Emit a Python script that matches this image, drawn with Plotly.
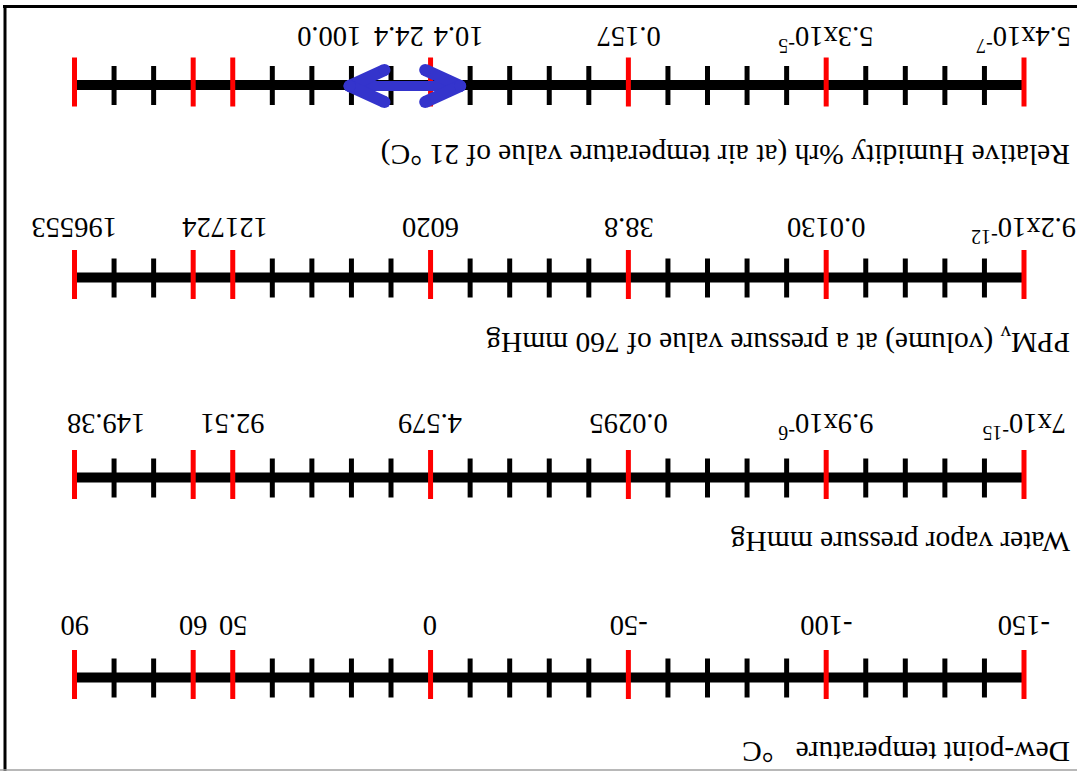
import plotly.graph_objects as go

# ---------------- data ----------------
# shared scale: dew-point temperature in degC (all four rulers share the same tick grid)
tick_values = list(range(-150, 91, 10))
red_values = [-150, -100, -50, 0, 50, 60, 90]
black_values = [v for v in tick_values if v not in red_values]

rh_title = "Relative Humidity %rh (at air temperature value of 21 °C)"
rh_labels = ["5.4x10<sup>-7</sup>", "5.3x10<sup>-5</sup>", "0.157", "10.4", "24.4", "100.0"]
rh_label_at = [-150, -100, -50, -7, 8, 25.5]

ppm_title = "PPM<sub>v</sub> (volume) at a pressure value of 760 mmHg"
ppm_labels = ["9.2x10<sup>-12</sup>", "0.0130", "38.8", "6020", "121724", "196553"]
ppm_label_at = [-150, -100, -50, 0, 52, 90]

vapor_title = "Water vapor pressure mmHg"
vapor_labels = ["7x10<sup>-15</sup>", "9.9x10<sup>-6</sup>", "0.0295", "4.579", "92.51", "149.38"]
vapor_label_at = [-150, -100, -50, 0, 50, 82]

dew_title = "Dew-point temperature\u00a0\u00a0\u00a0°C"
dew_labels = ["-150", "-100", "-50", "0", "50", "60", "90"]
dew_label_at = [-150, -100, -50, 0, 50, 60, 90]

arrow_span = [-9, 22]  # highlighted dew-point range (degC)

# ---------------- layout constants ----------------
W, H = 1077, 771
FONT = "Liberation Serif"
FS = 28.5      # tick-label font size
TFS = 29.5     # ruler-title font size
PX_AT_MIN, PX_AT_MAX = 1024.0, 74.5          # screen x of -150 and 90
k = (PX_AT_MIN - PX_AT_MAX) / (90 - (-150))  # px per degC
x_left = -150 + PX_AT_MIN / k
x_right = -150 - (W - PX_AT_MIN) / k

rows = [
    dict(title=rh_title, labels=rh_labels, at=rh_label_at, y=85, base=27, cap=164),
    dict(title=ppm_title, labels=ppm_labels, at=ppm_label_at, y=277.5, base=218, cap=352),
    dict(title=vapor_title, labels=vapor_labels, at=vapor_label_at, y=477.5, base=414, cap=551),
    dict(title=dew_title, labels=dew_labels, at=dew_label_at, y=677.5, base=615.5, cap=761),
]

fig = go.Figure()
annotations = []

def seg_xy(values, y0, y1):
    xs, ys = [], []
    for v in values:
        xs += [v, v, None]
        ys += [y0, y1, None]
    return xs, ys

for r in rows:
    y = r["y"]
    fig.add_trace(go.Scatter(x=[-150, 90], y=[y, y], mode="lines",
                             line=dict(color="black", width=10), hoverinfo="skip"))
    bx, by = seg_xy(black_values, y - 19, y + 20)
    fig.add_trace(go.Scatter(x=bx, y=by, mode="lines",
                             line=dict(color="black", width=5), hoverinfo="skip"))
    rx, ry = seg_xy(red_values, y - 27.5, y + 21.5)
    fig.add_trace(go.Scatter(x=rx, y=ry, mode="lines",
                             line=dict(color="#ff0000", width=5), hoverinfo="skip"))
    for lab, at in zip(r["labels"], r["at"]):
        annotations.append(dict(x=at, y=r["base"] - 0.216 * FS, xref="x", yref="y",
                                text=lab, showarrow=False, textangle=180,
                                xanchor="center", yanchor="top",
                                borderpad=0, borderwidth=0,
                                font=dict(family=FONT, size=FS, color="black")))
    annotations.append(dict(x=1070 / W, y=r["cap"] + 0.229 * TFS, xref="paper", yref="y",
                            text=r["title"], showarrow=False, textangle=180,
                            xanchor="right", yanchor="bottom",
                            borderpad=0, borderwidth=0,
                            font=dict(family=FONT, size=TFS, color="black")))

# double-headed arrow on the RH ruler
ay = 86
blue = "#3434cc"
hi, lo = max(arrow_span), min(arrow_span)   # hi is on the left (reversed axis)
inset, dx, dy = 6 / k, 35 / k, 16
tipL, tipR = hi - inset, lo + inset
fig.add_trace(go.Scatter(x=[tipL, tipR], y=[ay, ay], mode="lines",
                         line=dict(color=blue, width=10), hoverinfo="skip"))
ax_ = [tipL, tipL - dx, None, tipL, tipL - dx, None, tipR, tipR + dx, None, tipR, tipR + dx]
ay_ = [ay, ay - dy, None, ay, ay + dy, None, ay, ay - dy, None, ay, ay + dy]
fig.add_trace(go.Scatter(x=ax_, y=ay_, mode="lines+markers",
                         line=dict(color=blue, width=12),
                         marker=dict(color=blue, size=12, line=dict(width=0)),
                         hoverinfo="skip"))

shapes = [
    dict(type="line", xref="paper", yref="y", x0=3 / W, x1=1, y0=6.5, y1=6.5,
         line=dict(color="black", width=3)),
    dict(type="line", xref="paper", yref="y", x0=5 / W, x1=5 / W, y0=5, y1=H,
         line=dict(color="black", width=3)),
    dict(type="line", xref="paper", yref="y", x0=0, x1=1, y0=770, y1=770,
         line=dict(color="#a0a0a0", width=1.5)),
]

fig.update_layout(
    width=W, height=H, margin=dict(l=0, r=0, t=0, b=0),
    paper_bgcolor="white", plot_bgcolor="white", showlegend=False,
    xaxis=dict(range=[x_left, x_right], visible=False, fixedrange=True),
    yaxis=dict(range=[H, 0], visible=False, fixedrange=True),
    annotations=annotations, shapes=shapes,
)

fig.write_html("out.html", config=dict(displayModeBar=False),
               post_script="document.body.style.margin='0';document.body.style.overflow='hidden';")
